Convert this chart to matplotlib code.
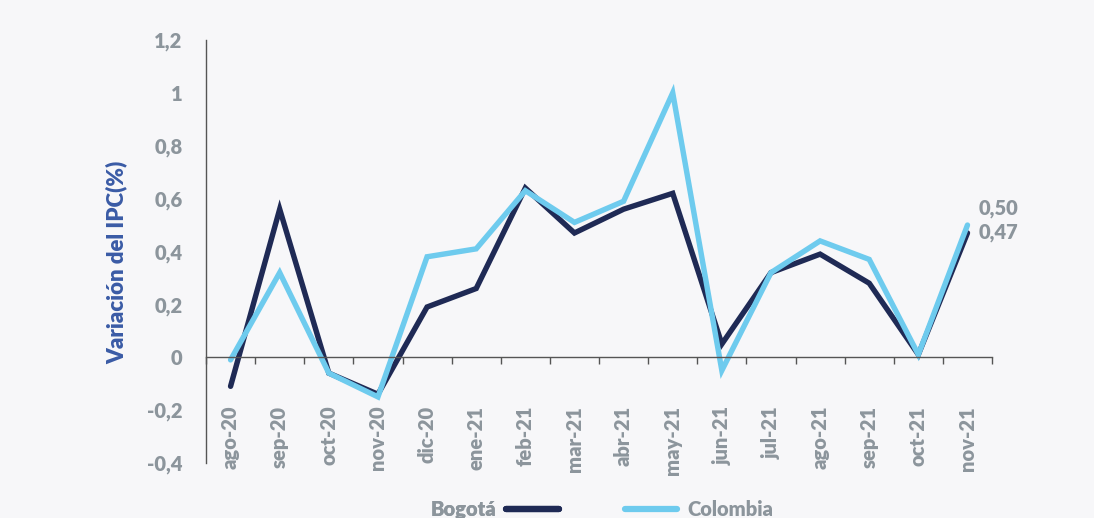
import numpy as np
import matplotlib
matplotlib.use("Agg")
import matplotlib.pyplot as plt
from matplotlib.lines import Line2D

plt.rcParams['font.family'] = ['Lato', 'DejaVu Sans']
plt.rcParams['font.weight'] = 800

meses = ['ago-20', 'sep-20', 'oct-20', 'nov-20', 'dic-20', 'ene-21', 'feb-21', 'mar-21',
         'abr-21', 'may-21', 'jun-21', 'jul-21', 'ago-21', 'sep-21', 'oct-21', 'nov-21']
bogota = [-0.11, 0.56, -0.06, -0.14, 0.19, 0.26, 0.64, 0.47,
          0.56, 0.62, 0.05, 0.32, 0.39, 0.28, 0.01, 0.47]
colombia = [-0.01, 0.32, -0.06, -0.15, 0.38, 0.41, 0.63, 0.51,
            0.59, 1.00, -0.05, 0.32, 0.44, 0.37, 0.01, 0.50]

navy = '#1f2a55'
celeste = '#6ecbee'
gris = '#8c959c'
bg = '#f7f7f9'

fig = plt.figure(figsize=(10.94, 5.18), dpi=100, facecolor=bg)
ax = fig.add_axes([0.1883, 0.1062, 0.7185, 0.8166], facecolor=bg)

x = np.arange(len(meses))
ax.plot(x, bogota, color=navy, lw=3.9, solid_capstyle='round', solid_joinstyle='miter')
ax.plot(x, colombia, color=celeste, lw=3.9, solid_capstyle='round', solid_joinstyle='miter')

ax.set_xlim(-0.5, len(meses) - 0.5)
ax.set_ylim(-0.4, 1.2)
yt = np.arange(-0.4, 1.21, 0.2)
ax.set_yticks(yt)
ax.set_yticklabels(['0' if abs(v) < 1e-9 else ('1' if abs(v - 1) < 1e-9 else f'{v:.1f}'.replace('.', ',')) for v in yt])
ax.tick_params(axis='y', length=0, pad=17, labelsize=14.5, labelcolor=gris)

ax.spines['top'].set_visible(False)
ax.spines['right'].set_visible(False)
ax.spines['left'].set_color('#555555')
ax.spines['left'].set_linewidth(1.0)
ax.spines['bottom'].set_position(('data', 0))
ax.spines['bottom'].set_color('#555555')
ax.spines['bottom'].set_linewidth(1.0)

ax.set_xticks(x)
ax.set_xticklabels(meses, rotation=90, va='top', ha='center')
ax.set_xticks(np.arange(-0.5, len(meses), 1.0), minor=True)
ax.tick_params(axis='x', which='major', length=0, pad=35, labelsize=14.5, labelcolor=gris)
ax.tick_params(axis='x', which='minor', length=5, width=1.0, color='#555555', direction='out')

ax.set_ylabel('Variación del IPC(%)', color='#3a5ba6', fontsize=16, fontweight=800)
ax.yaxis.set_label_coords(-0.1005, 0.475)

ax.annotate('0,50', (x[-1], colombia[-1]), xytext=(8, 12), textcoords='offset points',
            color=gris, fontsize=14.5, va='center', ha='left')
ax.annotate('0,47', (x[-1], bogota[-1]), xytext=(8, 0), textcoords='offset points',
            color=gris, fontsize=14.5, va='center', ha='left')

h1 = [Line2D([], [], color=navy, lw=4.5, solid_capstyle='round')]
h2 = [Line2D([], [], color=celeste, lw=4.5, solid_capstyle='round')]
leg1 = fig.legend(h1, ['Bogotá'], loc='center', bbox_to_anchor=(0.452, 0.017), frameon=False,
                  markerfirst=False, handlelength=2.6, handletextpad=0.5, fontsize=14.5,
                  labelcolor=gris)
fig.add_artist(leg1)
fig.legend(h2, ['Colombia'], loc='center', bbox_to_anchor=(0.639, 0.017), frameon=False,
           handlelength=2.6, handletextpad=0.5, fontsize=14.5, labelcolor=gris)

fig.savefig('out.png', dpi=100, facecolor=bg)
